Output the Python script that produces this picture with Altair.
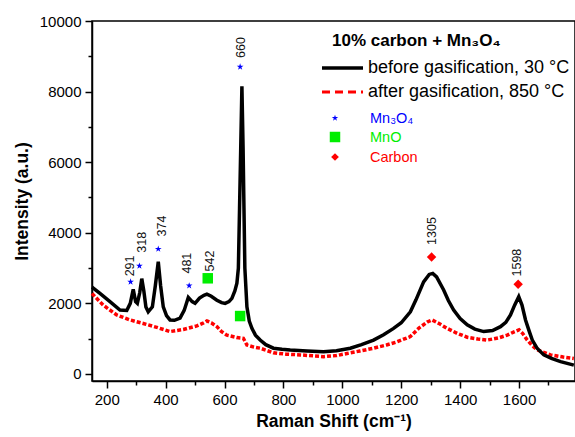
import altair as alt
import pandas as pd

# ---- spectra ----
before_x = [150, 177, 211, 245, 268, 280, 290, 298, 304, 312, 319, 326, 333, 341, 355, 365, 375, 383, 392, 403,
            415, 430, 449, 463, 477, 490, 500, 515, 530, 540, 555, 574, 590, 602, 615, 625, 635, 642, 647, 651,
            655, 659, 663, 666, 669, 676, 684, 693, 705, 721, 740, 766, 795, 823, 880, 936, 980, 1027, 1065, 1106,
            1140, 1174, 1200, 1231, 1250, 1276, 1295, 1307, 1320, 1344, 1360, 1378, 1400, 1424, 1450, 1480, 1510,
            1537, 1555, 1571, 1585, 1599, 1610, 1622, 1635, 1645, 1662, 1684, 1710, 1741, 1786]
before_y = [2460, 2280, 2050, 1810, 1800, 2000, 2400, 2050, 2000, 2300, 2700, 2350, 1900, 1760, 1900, 2500, 3180, 2500, 1900, 1650,
            1530, 1520, 1580, 1800, 2170, 2050, 2000, 2150, 2230, 2260, 2200, 2090, 2020, 2000, 2050, 2140, 2350, 2570, 3000, 4700,
            6400, 8150, 6400, 4700, 3000, 1900, 1500, 1290, 1100, 960, 830, 730, 700, 680, 650, 630, 660, 730, 830, 960,
            1110, 1290, 1450, 1760, 2100, 2610, 2820, 2850, 2750, 2380, 2080, 1810, 1570, 1390, 1270, 1200, 1230,
            1340, 1460, 1670, 1950, 2190, 1950, 1530, 1200, 960, 720, 540, 440, 350, 250]

after_x = [150, 188, 234, 279, 324, 370, 415, 460, 506, 525, 540, 555, 574, 590, 608, 642, 664, 676, 700, 721,
           766, 810, 857, 936, 980, 1016, 1060, 1106, 1150, 1186, 1231, 1260, 1290, 1305, 1330, 1356, 1390, 1424,
           1460, 1492, 1530, 1560, 1585, 1600, 1612, 1628, 1645, 1662, 1707, 1750, 1786]
after_y = [2280, 1950, 1670, 1530, 1430, 1320, 1200, 1260, 1360, 1430, 1500, 1450, 1340, 1200, 1100, 1030, 1010, 820, 760, 730,
           600, 560, 540, 490, 520, 580, 650, 730, 820, 910, 1060, 1300, 1480, 1530, 1420, 1290, 1150, 1040,
           990, 960, 1020, 1100, 1200, 1250, 1150, 960, 800, 680, 540, 480, 440]

# ---- peak markers ----
mn3o4_x = [281, 311, 375, 480, 653]
mn3o4_y = [2610, 3060, 3540, 2500, 8700]
mno_x = [543, 653]
mno_y = [2710, 1640]
carbon_x = [1303, 1597]
carbon_y = [3310, 2540]

# ---- peak labels ----
label_text = ["291", "318", "374", "481", "542", "660", "1305", "1598"]
label_x = [279, 321, 388, 472, 549, 656, 1306, 1594]
label_y = [3060, 3730, 4190, 3140, 3200, 9250, 4050, 3155]

# ---- legend texts ----
legend_title = "10% carbon + Mn₃O₄"
line_names = ["before gasification, 30 °C", "after gasification, 850 °C"]
sym_names = ["Mn₃O₄", "MnO", "Carbon"]

FONT = "Liberation Sans"
W, H = 483, 360
X0, Y0 = 92, 21

x_enc = alt.X("x:Q", scale=alt.Scale(domain=[150, 1790], nice=False, zero=False),
              axis=alt.Axis(values=list(range(200, 1800, 100)),
                            labelExpr="datum.value % 200 === 0 ? datum.label : ''",
                            format="d",
                            tickSize={"condition": {"test": "datum.value % 200 === 0", "value": 7}, "value": 4},
                            title="Raman Shift (cm⁻¹)", titlePadding=5, labelPadding=4))
y_enc = alt.Y("y:Q", scale=alt.Scale(domain=[-200, 10000], nice=False, zero=False),
              axis=alt.Axis(values=list(range(0, 10001, 1000)),
                            labelExpr="datum.value % 2000 === 0 ? datum.label : ''",
                            format="d",
                            tickSize={"condition": {"test": "datum.value % 2000 === 0", "value": 7}, "value": 4},
                            title="Intensity (a.u.)", titlePadding=8, labelPadding=4))

before = pd.DataFrame({"x": before_x, "y": before_y})
after = pd.DataFrame({"x": after_x, "y": after_y})

red_line = alt.Chart(after).mark_line(color="#ff0000", strokeWidth=3.5, strokeDash=[4, 2]).encode(
    x=x_enc, y=y_enc, order="x:Q")
black_line = alt.Chart(before).mark_line(color="black", strokeWidth=3.5).encode(
    x=x_enc, y=y_enc, order="x:Q")

STAR = "M0,-1L0.2245,-0.309L0.951,-0.309L0.363,0.118L0.588,0.809L0,0.382L-0.588,0.809L-0.363,0.118L-0.951,-0.309L-0.2245,-0.309Z"

stars = alt.Chart(pd.DataFrame({"x": mn3o4_x, "y": mn3o4_y})).mark_point(
    shape=STAR, filled=True, color="#0000ff", size=50, opacity=1).encode(x=x_enc, y=y_enc)
squares = alt.Chart(pd.DataFrame({"x": mno_x, "y": mno_y})).mark_point(
    shape="square", filled=True, color="#00ee00", size=110, opacity=1).encode(x=x_enc, y=y_enc)
diamonds = alt.Chart(pd.DataFrame({"x": carbon_x, "y": carbon_y})).mark_point(
    shape="diamond", filled=True, color="#ff0000", size=90, opacity=1).encode(x=x_enc, y=y_enc)

labels = alt.Chart(pd.DataFrame({"x": label_x, "y": label_y, "t": label_text})).mark_text(
    angle=270, font=FONT, fontSize=12.5, color="#111", align="center", baseline="middle").encode(
    x=x_enc, y=y_enc, text="t:N")

# ---- manual legend ----
legend_layers = []
legend_layers.append(alt.Chart(pd.DataFrame({"t": [legend_title]})).mark_text(
    font=FONT, fontSize=17, fontWeight="bold", align="left", baseline="middle", color="black").encode(
    x=alt.value(332 - X0), y=alt.value(41 - Y0), text="t:N"))
legend_layers.append(alt.Chart(pd.DataFrame({"a": [0]})).mark_rule(color="black", strokeWidth=3.5).encode(
    x=alt.value(322 - X0), x2=alt.value(363 - X0), y=alt.value(68 - Y0)))
legend_layers.append(alt.Chart(pd.DataFrame({"a": [0]})).mark_rule(color="#ff0000", strokeWidth=3, strokeDash=[8, 5]).encode(
    x=alt.value(322 - X0), x2=alt.value(363 - X0), y=alt.value(92 - Y0)))
for i, (name, yy) in enumerate(zip(line_names, [68, 92])):
    legend_layers.append(alt.Chart(pd.DataFrame({"t": [name]})).mark_text(
        font=FONT, fontSize=18, align="left", baseline="middle", color="black").encode(
        x=alt.value(368 - X0), y=alt.value(yy - Y0), text="t:N"))

sym_specs = [(STAR, "#0000ff", 45, 118), ("square", "#00ee00", 110, 137), ("diamond", "#ff0000", 60, 157)]
for name, (shp, col, sz, yy) in zip(sym_names, sym_specs):
    legend_layers.append(alt.Chart(pd.DataFrame({"a": [0]})).mark_point(
        shape=shp, filled=True, color=col, size=sz, opacity=1).encode(
        x=alt.value(335 - X0), y=alt.value(yy - Y0)))
    legend_layers.append(alt.Chart(pd.DataFrame({"t": [name]})).mark_text(
        font=FONT, fontSize=14.5, align="left", baseline="middle", color=col).encode(
        x=alt.value(370 - X0), y=alt.value(yy + 1 - Y0), text="t:N"))

chart = alt.layer(red_line, black_line, stars, squares, diamonds, labels, *legend_layers).properties(
    width=W, height=H,
    background="white",
    autosize=alt.AutoSizeParams(type="none"),
    padding={"left": X0, "top": Y0, "right": 0, "bottom": 437 - Y0 - H},
).configure_view(stroke="black", strokeWidth=1.5).configure_axis(
    grid=False, domainColor="black", domainWidth=1.5, tickColor="black", tickWidth=1.5,
    labelFont=FONT, labelFontSize=15, labelColor="black",
    titleFont=FONT, titleFontSize=17.5, titleFontWeight="bold", titleColor="black",
)

chart.save("out.html", embed_options={"renderer": "svg", "actions": False})
